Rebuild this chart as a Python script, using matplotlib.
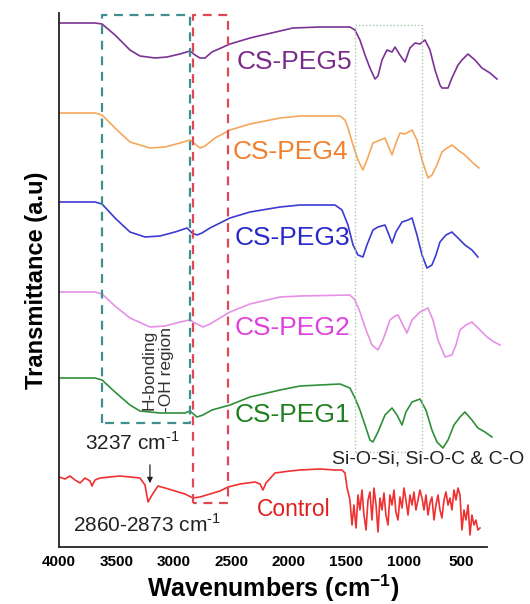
import matplotlib
matplotlib.use("Agg")
import matplotlib.pyplot as plt

plt.rcParams['font.family'] = ['Liberation Sans', 'DejaVu Sans']
plt.rcParams['mathtext.fontset'] = 'custom'
plt.rcParams['mathtext.rm'] = 'Liberation Sans'
plt.rcParams['mathtext.bf'] = 'Liberation Sans:bold'

# ---------------- data (wavenumber cm-1, transmittance a.u. with offsets) ----------------
peg5_wn = [4000, 3687, 3626, 3513, 3383, 3296, 3165, 3061, 2948, 2861, 2817, 2774, 2730, 2670,
           2513, 2339, 2078, 1965, 1730, 1470, 1426, 1383, 1339, 1296, 1252, 1226, 1191, 1148,
           1104, 1078, 1035, 991, 948, 904, 861, 817, 774, 730, 687, 670, 617, 583, 530, 496,
           443, 383, 322, 252, 191]
peg5_t = [524, 524, 523, 512, 497, 491, 489, 490, 493, 496, 492, 489, 489, 495,
          503, 509, 516, 519, 520, 520, 517, 507, 492, 479, 468, 471, 487, 497,
          495, 500, 492, 485, 499, 504, 503, 507, 497, 477, 462, 459, 459, 469, 482, 487,
          493, 487, 479, 474, 468]

peg4_wn = [4000, 3687, 3626, 3513, 3383, 3209, 3078, 2948, 2861, 2817, 2774, 2730, 2643,
           2513, 2339, 2078, 1904, 1556, 1513, 1487, 1443, 1400, 1357, 1322, 1270, 1226,
           1165, 1130, 1104, 1070, 1035, 991, 930, 887, 843, 791, 757, 713, 670, 626, 583,
           530, 470, 409, 348]
peg4_t = [434, 434, 432, 419, 405, 399, 400, 404, 407, 403, 399, 401, 409,
          417, 423, 429, 431, 431, 427, 419, 402, 387, 377, 387, 404, 406,
          409, 399, 392, 404, 414, 413, 417, 407, 387, 369, 372, 382, 395, 399, 402,
          397, 392, 385, 379]

peg3_wn = [4000, 3687, 3626, 3513, 3383, 3252, 3122, 2991, 2887, 2843, 2800, 2757, 2687,
           2513, 2339, 2078, 1904, 1600, 1539, 1487, 1443, 1400, 1357, 1322, 1270, 1226,
           1165, 1130, 1104, 1070, 1017, 965, 930, 887, 843, 800, 757, 722, 687, 635, 583,
           530, 470, 409, 357]
peg3_t = [345, 345, 343, 329, 315, 310, 311, 315, 319, 314, 312, 314, 319,
          329, 335, 340, 342, 342, 337, 322, 302, 292, 290, 302, 317, 320,
          322, 312, 304, 315, 325, 327, 329, 312, 292, 279, 282, 292, 305, 312, 315,
          309, 302, 297, 290]

peg2_wn = [4000, 3687, 3626, 3513, 3383, 3209, 3078, 2948, 2861, 2800, 2748, 2687, 2513,
           2339, 2078, 1904, 1470, 1426, 1383, 1330, 1278, 1226, 1183, 1122, 1078, 1052,
           1009, 974, 930, 861, 791, 748, 704, 643, 583, 548, 513, 461, 409, 339, 278, 217, 165]
peg2_t = [255, 255, 253, 241, 229, 220, 221, 225, 227, 223, 220, 223, 235,
          243, 250, 251, 252, 247, 235, 217, 202, 197, 207, 227, 231, 232,
          222, 214, 227, 235, 239, 227, 207, 190, 192, 202, 217, 222, 225, 217, 210, 205, 202]

peg1_wn = [4000, 3687, 3626, 3513, 3383, 3296, 3122, 2904, 2861, 2800, 2748, 2670, 2513,
           2339, 2078, 1904, 1556, 1470, 1426, 1383, 1339, 1296, 1270, 1226, 1165, 1104,
           1061, 1017, 983, 930, 861, 809, 757, 713, 661, 617, 565, 513, 470, 409, 357, 296, 235]
peg1_t = [169, 169, 167, 155, 142, 136, 134, 134, 136, 130, 132, 137, 142,
          150, 157, 161, 163, 159, 149, 137, 122, 107, 105, 115, 132, 139,
          132, 122, 135, 145, 148, 137, 117, 105, 99, 107, 122, 130, 135, 127, 119, 115, 110]

ctrl_wn = [4000, 3948, 3904, 3861, 3817, 3774, 3730, 3713, 3687, 3643, 3557, 3470, 3383,
           3296, 3252, 3226, 3191, 3139, 3078, 2991, 2904, 2835, 2774, 2687, 2600, 2530,
           2426, 2296, 2252, 2226, 2200, 2122, 1991, 1904, 1730, 1600, 1539, 1513,
           1496, 1470, 1452, 1435, 1417, 1400, 1383, 1365, 1348, 1330, 1313, 1296, 1278,
           1261, 1243, 1226, 1209, 1191, 1174, 1157, 1139, 1122, 1104, 1087, 1070, 1052,
           1035, 1017, 1000, 983, 965, 948, 930, 913, 896, 878, 861, 843, 826, 809, 791,
           774, 757, 739, 722, 704, 687, 670, 652, 635, 617, 600, 583, 565, 548, 530, 513,
           496, 478, 461, 443, 426, 409, 391, 374, 357, 339]
ctrl_t = [70, 68, 71, 67, 64, 69, 66, 61, 67, 69, 70, 71, 70,
          69, 62, 45, 52, 61, 59, 56, 53, 49, 50, 53, 56, 60,
          63, 65, 63, 57, 64, 74, 76, 77, 78, 77, 77, 74,
          60, 47, 22, 42, 19, 52, 37, 57, 32, 17, 47, 55, 27,
          59, 42, 15, 49, 37, 54, 32, 22, 52, 42, 57, 35, 27,
          50, 39, 59, 47, 32, 52, 42, 55, 37, 47, 57, 49, 37, 52, 32,
          44, 50, 27, 42, 52, 37, 29, 47, 55, 42, 49, 37, 57, 47, 59,
          52, 17, 37, 27, 42, 12, 32, 22, 27, 17, 19]

series = [
    ("CS-PEG5", peg5_wn, peg5_t, "#7b3294", "#7a2a8a", 2452, 485, 19),
    ("CS-PEG4", peg4_wn, peg4_t, "#f5a75c", "#f08030", 2487, 395, 19),
    ("CS-PEG3", peg3_wn, peg3_t, "#3b3bd2", "#2828c8", 2470, 309, 19),
    ("CS-PEG2", peg2_wn, peg2_t, "#e690e6", "#e040e0", 2470, 219, 19),
    ("CS-PEG1", peg1_wn, peg1_t, "#2f8f3a", "#208020", 2470, 132, 19),
    ("Control", ctrl_wn, ctrl_t, "#f03030", "#e02020", 2278, 37, 16.5),
]

xticks = [4000, 3500, 3000, 2500, 2000, 1500, 1000, 500]

# ---------------- figure ----------------
fig = plt.figure(figsize=(5.30, 6.04), dpi=100)
ax = fig.add_axes([59/530, 57/604, (487-59)/530, (547-13)/604])
ax.set_xlim(4000, 278)
ax.set_ylim(0, 534)

for name, wn, t, lc, tc, lx, ly, fs in series:
    ax.plot(wn, t, color=lc, lw=1.2, clip_on=False)
    ax.text(lx, ly, name, color=tc, fontsize=fs, ha='left', va='center')

# highlight boxes
ax.plot([3626, 3626, 2861, 2861, 3626], [124, 532, 532, 124, 124],
        color="#3f8f8f", lw=1.6, ls=(0, (4, 3)))
ax.plot([2835, 2835, 2530, 2530, 2835], [44, 532, 532, 44, 44],
        color="#e04858", lw=1.6, ls=(0, (4, 3)))
ax.plot([1426, 1426, 843, 843, 1426], [95, 522, 522, 95, 95],
        color="#a8c8a8", lw=1.0, ls=(0, (1, 1.5)))

ax.text(3139, 177, "H-bonding\n-OH region", rotation=90, fontsize=12.5,
        color="#333333", ha='center', va='center', multialignment='center')
ax.text(3774, 104, r"3237 cm$^{\text{-1}}$", fontsize=15, color="#222222", ha='left', va='center')
ax.annotate("", xy=(3209, 61), xytext=(3209, 85),
            arrowprops=dict(arrowstyle="-|>", color="#222222", lw=0.9, mutation_scale=8))
ax.text(3878, 22, r"2860-2873 cm$^{\text{-1}}$", fontsize=15, color="#222222", ha='left', va='center')
ax.text(1626, 88, "Si-O-Si, Si-O-C & C-O", fontsize=14, color="#222222",
        ha='left', va='center', clip_on=False)

ax.set_xticks(xticks)
ax.set_xticklabels([str(v) for v in xticks], fontsize=11, fontweight='bold')
ax.tick_params(axis='x', length=0, pad=6)
ax.set_yticks([])
for s in ['top', 'right']:
    ax.spines[s].set_visible(False)
for s in ['left', 'bottom']:
    ax.spines[s].set_linewidth(1.3)
    ax.spines[s].set_color("#222222")

ax.set_xlabel(r"Wavenumbers (cm$^{\mathbf{-1}}$)", fontsize=18, fontweight='bold', labelpad=2)
ax.set_ylabel("Transmittance (a.u)", fontsize=17, fontweight='bold', labelpad=8)

fig.savefig("out.png", dpi=100)
